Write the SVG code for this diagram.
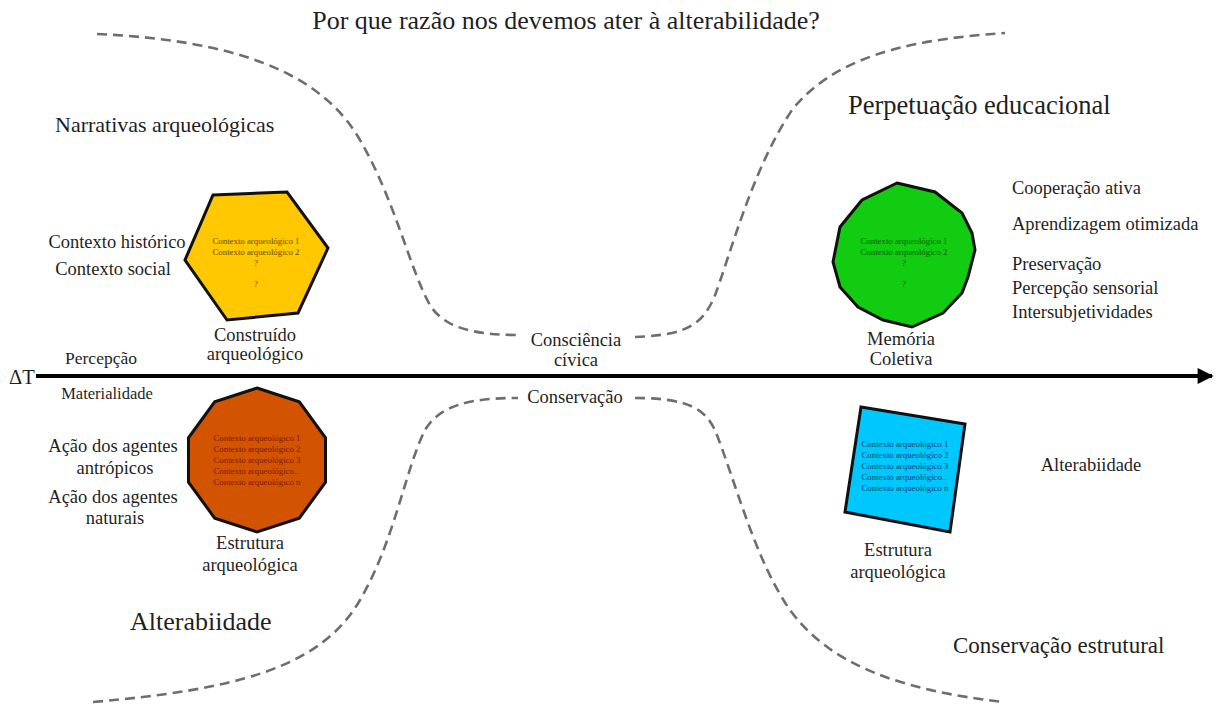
<svg xmlns="http://www.w3.org/2000/svg" width="1217" height="704" viewBox="0 0 1217 704">
<style>
text{font-family:"Liberation Serif","DejaVu Serif",serif;fill:#1f1f1f}
.c{text-anchor:middle}
.s15{font-size:18.5px}
.tiny{font-size:8.8px;text-anchor:middle}
.dash{fill:none;stroke:#6e6e6e;stroke-width:2.6;stroke-dasharray:10 6}
.shape{stroke:#111;stroke-width:3;stroke-linejoin:miter}
</style>
<defs>
<marker id="ah" viewBox="0 0 10 10" refX="9" refY="5" markerWidth="6" markerHeight="4" orient="auto" markerUnits="strokeWidth">
<path d="M0,0 L10,5 L0,10 z" fill="#000"/>
</marker>
</defs>
<rect width="1217" height="704" fill="#fff"/>

<g id="title"><text class="c" x="566" y="29" style="font-size:26px">Por que razão nos devemos ater à alterabilidade?</text></g>

<g id="connectors">
<path class="dash" d="M97,34 C230,40 320,70 360,140 C395,200 410,270 430,305 C445,330 480,335 520,335"/>
<path class="dash" d="M635,337 C690,335 702,323 714,298 C732,250 752,170 792,110 C832,60 900,40 1005,33"/>
<path class="dash" d="M93,702 C230,690 320,670 360,600 C395,540 405,470 425,430 C440,405 470,398 518,398"/>
<path class="dash" d="M635,398 C690,398 705,410 715,430 C735,480 755,560 790,610 C830,665 900,690 1003,702"/>
<line x1="36" y1="376" x2="1212" y2="376" stroke="#000" stroke-width="4" marker-end="url(#ah)"/>
</g>

<g id="delta"><text x="9" y="384" style="font-size:20.5px">ΔT</text></g>

<g id="narrativas"><text x="55" y="132" style="font-size:22px">Narrativas arqueológicas</text></g>
<g id="perpetuacao"><text x="848" y="114" style="font-size:26.5px">Perpetuação educacional</text></g>
<g id="alterabiidade-left"><text x="130" y="630" style="font-size:26px">Alterabiidade</text></g>
<g id="conservacao-estrutural"><text x="953" y="653" style="font-size:23px">Conservação estrutural</text></g>

<g id="left-top-labels">
<text class="c s15" x="117" y="248">Contexto histórico</text>
<text class="c s15" x="113" y="275">Contexto social</text>
<text class="c" x="101" y="364" style="font-size:17.5px">Percepção</text>
<text class="c" x="107" y="399" style="font-size:16.5px">Materialidade</text>
</g>

<g id="construido">
<polygon class="shape" fill="#FFC800" points="213,195 287,192 328,248 298,313 227,320 185,260"/>
<text class="tiny" x="256" y="244" style="fill:#6b4a00">Contexto arqueológico 1</text>
<text class="tiny" x="256" y="255" style="fill:#6b4a00">Contexto arqueológico 2</text>
<text class="tiny" x="256" y="266" style="fill:#6b4a00">?</text>
<text class="tiny" x="256" y="287" style="fill:#6b4a00">?</text>
<text class="c s15" x="255" y="341">Construído</text>
<text class="c s15" x="255" y="360">arqueológico</text>
</g>

<g id="estrutura-left">
<polygon class="shape" fill="#D35400" points="257,388 299.3,401.8 325.5,437.8 325.5,482.2 299.3,518.2 257,532 214.7,518.2 188.5,482.2 188.5,437.8 214.7,401.8"/>
<text class="tiny" x="257" y="441" style="fill:#7a1a00">Contexto arqueológico 1</text>
<text class="tiny" x="257" y="452" style="fill:#7a1a00">Contexto arqueológico 2</text>
<text class="tiny" x="257" y="463" style="fill:#7a1a00">Contexto arqueológico 3</text>
<text class="tiny" x="257" y="474" style="fill:#7a1a00">Contexto arqueológico...</text>
<text class="tiny" x="257" y="485" style="fill:#7a1a00">Contexto arqueológico n</text>
<text class="c s15" x="250" y="549">Estrutura</text>
<text class="c s15" x="250" y="571">arqueológica</text>
</g>

<g id="agentes">
<text class="c s15" x="113" y="452">Ação dos agentes</text>
<text class="c s15" x="115" y="474">antrópicos</text>
<text class="c s15" x="113" y="503">Ação dos agentes</text>
<text class="c s15" x="115" y="524">naturais</text>
</g>

<g id="consciencia">
<text class="c s15" x="576" y="346">Consciência</text>
<text class="c s15" x="576" y="366">cívica</text>
</g>
<g id="conservacao"><text class="c s15" x="575" y="403">Conservação</text></g>

<g id="memoria">
<polygon class="shape" fill="#11CC11" points="897,183 935,192 962,213 972,233 975,250 968,277 962,293 943,313 912,327 883,320 858,307 840,287 833,262 840,227 862,200"/>
<text class="tiny" x="904" y="244" style="fill:#0a5a0a">Contexto arqueológico 1</text>
<text class="tiny" x="904" y="255" style="fill:#0a5a0a">Contexto arqueológico 2</text>
<text class="tiny" x="904" y="266" style="fill:#0a5a0a">?</text>
<text class="tiny" x="904" y="287" style="fill:#0a5a0a">?</text>
<text class="c s15" x="901" y="345">Memória</text>
<text class="c s15" x="901" y="365">Coletiva</text>
</g>

<g id="right-list">
<text class="s15" x="1012" y="194">Cooperação ativa</text>
<text class="s15" x="1012" y="230">Aprendizagem otimizada</text>
<text class="s15" x="1012" y="270">Preservação</text>
<text class="s15" x="1012" y="294">Percepção sensorial</text>
<text class="s15" x="1012" y="318">Intersubjetividades</text>
</g>

<g id="estrutura-right">
<polygon class="shape" fill="#00C8FF" points="861,407 965,424 950,532 845,512"/>
<text class="tiny" x="905" y="447" style="fill:#00446e">Contexto arqueológico 1</text>
<text class="tiny" x="905" y="458" style="fill:#00446e">Contexto arqueológico 2</text>
<text class="tiny" x="905" y="469" style="fill:#00446e">Contexto arqueológico 3</text>
<text class="tiny" x="905" y="480" style="fill:#00446e">Contexto arqueológico...</text>
<text class="tiny" x="905" y="491" style="fill:#00446e">Contexto arqueológico n</text>
<text class="c s15" x="898" y="556">Estrutura</text>
<text class="c s15" x="898" y="578">arqueológica</text>
</g>

<g id="alterabiidade-right"><text class="c" x="1091" y="471" style="font-size:18.5px">Alterabiidade</text></g>
</svg>
